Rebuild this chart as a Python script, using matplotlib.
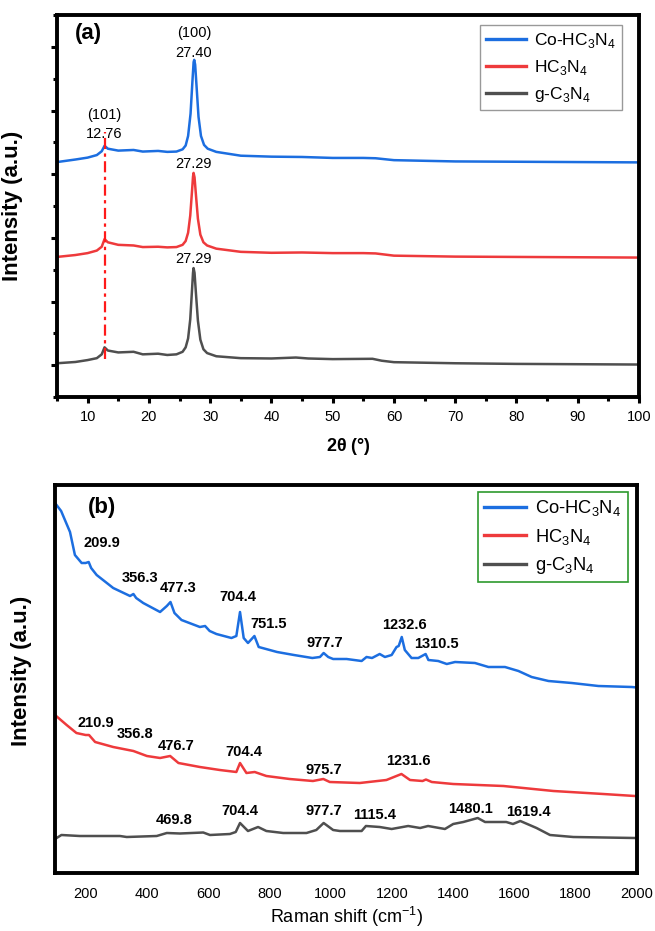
import matplotlib
matplotlib.use("Agg")
import matplotlib.pyplot as plt
from matplotlib.ticker import MultipleLocator

plt.rcParams['font.family'] = ['Liberation Sans', 'DejaVu Sans']
plt.rcParams['mathtext.fontset'] = 'custom'
plt.rcParams['mathtext.rm'] = 'Liberation Sans'
plt.rcParams['mathtext.bf'] = 'Liberation Sans:bold'

BLUE = '#1c6ee0'
RED = '#ee3a3c'
GRAY = '#4f4f4f'

names = [r'Co-HC$_3$N$_4$', r'HC$_3$N$_4$', r'g-C$_3$N$_4$']

# ---- XRD patterns (offset stacked, arbitrary counts) ----
xrd_co_x = [5, 8, 10, 11.5, 12.3, 12.76, 13.3, 15, 17.5, 19, 21.5, 23, 24.5, 25.5, 26.0, 26.4, 26.8, 27.1,
            27.3, 27.4, 27.55, 27.8, 28.1, 28.5, 29.0, 29.6, 31, 35, 40, 45, 50, 55, 57, 60, 70, 80, 90, 100]
xrd_co_y = [4190, 4230, 4260, 4300, 4360, 4445, 4400, 4370, 4380, 4355, 4365, 4350, 4355, 4390, 4450, 4600, 4950, 5450,
            5760, 5795, 5720, 5350, 4900, 4600, 4460, 4400, 4350, 4290, 4275, 4270, 4255, 4255, 4250, 4220, 4200, 4195, 4190, 4185]

xrd_h_x = [5, 8, 10, 11.5, 12.3, 12.76, 13.3, 15, 17.5, 19, 21.5, 23, 24.5, 25.5, 26.0, 26.4, 26.75, 27.05,
           27.2, 27.29, 27.45, 27.7, 28.0, 28.4, 28.9, 29.5, 31, 35, 40, 45, 50, 55, 57, 60, 70, 80, 90, 100]
xrd_h_y = [2700, 2730, 2760, 2800, 2860, 2980, 2930, 2890, 2880, 2855, 2860, 2850, 2855, 2890, 2950, 3080, 3350, 3750,
           3960, 4020, 3950, 3650, 3300, 3050, 2930, 2880, 2830, 2780, 2765, 2770, 2760, 2760, 2755, 2720, 2705, 2700, 2695, 2690]

xrd_g_x = [5, 8, 10, 11.5, 12.3, 12.76, 13.3, 15, 17.5, 19, 21.5, 23, 24.5, 25.5, 26.0, 26.4, 26.75, 27.05,
           27.2, 27.29, 27.45, 27.7, 28.0, 28.4, 28.9, 29.5, 31, 35, 40, 44, 46, 50, 56.5, 58, 60, 70, 80, 90, 100]
xrd_g_y = [1030, 1050, 1080, 1110, 1170, 1280, 1230, 1200, 1210, 1170, 1180, 1160, 1170, 1210, 1280, 1420, 1720, 2200,
           2450, 2525, 2450, 2100, 1700, 1400, 1250, 1190, 1140, 1110, 1105, 1120, 1105, 1095, 1100, 1070, 1047, 1030, 1020, 1015, 1010]

xrd_peaks = [(12.76, 4780, '(101)\n12.76'), (27.35, 6060, '(100)\n27.40'),
             (27.3, 4160, '27.29'), (27.3, 2660, '27.29')]

# ---- Raman spectra ----
ram_co_x = [100, 120, 149, 165, 187, 200, 210, 218, 236, 290, 345, 356, 365, 388, 443, 465, 477, 490, 513,
            573, 590, 605, 627, 676, 692, 704, 716, 730, 751, 765, 825, 880, 940, 965, 977, 992, 1008,
            1052, 1101, 1117, 1135, 1160, 1177, 1199, 1215, 1222, 1232, 1242, 1264, 1286, 1310, 1319,
            1351, 1379, 1406, 1471, 1515, 1569, 1613, 1656, 1711, 1787, 1874, 1983, 2000]
ram_co_y = [3700, 3620, 3410, 3180, 3100, 3100, 3110, 3050, 2980, 2850, 2770, 2790, 2750, 2700, 2610, 2670, 2710, 2600, 2530,
            2460, 2470, 2420, 2390, 2350, 2370, 2610, 2350, 2300, 2370, 2260, 2210, 2180, 2150, 2160, 2200, 2160, 2140,
            2140, 2120, 2160, 2150, 2190, 2160, 2180, 2260, 2270, 2360, 2230, 2150, 2150, 2190, 2130,
            2120, 2090, 2110, 2100, 2060, 2060, 2020, 1960, 1920, 1900, 1870, 1860, 1855]

ram_h_x = [100, 138, 170, 200, 211, 231, 290, 356, 400, 443, 476, 503, 573, 638, 692, 704, 725, 752, 790,
           866, 942, 976, 997, 1095, 1182, 1231, 1259, 1300, 1311, 1330, 1400, 1564, 1727, 1890, 1993, 2000]
ram_h_y = [1580, 1480, 1400, 1380, 1380, 1310, 1260, 1220, 1170, 1150, 1170, 1100, 1060, 1030, 1010, 1100, 1000, 1010, 970,
           940, 920, 940, 910, 900, 930, 990, 930, 920, 935, 910, 890, 870, 820, 790, 770, 770]

ram_g_x = [100, 121, 181, 312, 334, 432, 465, 508, 584, 606, 671, 690, 704, 730, 763, 790, 845, 921, 953, 977,
           1008, 1030, 1101, 1115, 1160, 1199, 1253, 1292, 1318, 1373, 1400, 1433, 1480, 1504, 1573, 1595,
           1619, 1672, 1716, 1792, 1993, 2000]
ram_g_y = [340, 380, 370, 370, 360, 370, 400, 395, 405, 380, 390, 410, 500, 420, 460, 420, 400, 400, 430, 500,
           430, 420, 420, 470, 460, 440, 470, 450, 470, 440, 490, 510, 550, 510, 510, 490,
           520, 450, 380, 360, 350, 350]

ram_labels = [
    (253, 3300, '209.9'), (378, 2950, '356.3'), (502, 2850, '477.3'), (698, 2760, '704.4'),
    (799, 2490, '751.5'), (982, 2300, '977.7'), (1240, 2480, '1232.6'), (1344, 2290, '1310.5'),
    (234, 1500, '210.9'), (361, 1390, '356.8'), (495, 1270, '476.7'), (717, 1210, '704.4'),
    (978, 1030, '975.7'), (1252, 1120, '1231.6'),
    (489, 530, '469.8'), (704, 620, '704.4'), (978, 620, '977.7'), (1145, 580, '1115.4'),
    (1458, 640, '1480.1'), (1644, 610, '1619.4'),
]

fig = plt.figure(figsize=(6.55, 9.31), dpi=100)
W, H = 655, 931
ax1 = fig.add_axes([57 / W, 1 - 397 / H, 582 / W, 382 / H])
ax2 = fig.add_axes([55 / W, 1 - 873 / H, 582 / W, 388 / H])

for ax in (ax1, ax2):
    for s in ax.spines.values():
        s.set_linewidth(2.8)

# (a) XRD
ax1.plot(xrd_co_x, xrd_co_y, color=BLUE, lw=1.8, label=names[0])
ax1.plot(xrd_h_x, xrd_h_y, color=RED, lw=1.8, label=names[1])
ax1.plot(xrd_g_x, xrd_g_y, color=GRAY, lw=1.8, label=names[2])
ax1.plot([12.76, 12.76], [1090, 4660], color='#ff1a1a', lw=1.6, ls=(0, (5, 2, 1.5, 2)))
for x, y, t in xrd_peaks:
    ax1.text(x, y, t, ha='center', va='center', fontsize=10.5, linespacing=1.5)
ax1.text(88 / W, 1 - 33 / H, '(a)', transform=fig.transFigure, fontsize=16, fontweight='bold',
         ha='center', va='center')
ax1.set_xlim(5, 100)
ax1.set_ylim(500, 6500)
ax1.xaxis.set_major_locator(MultipleLocator(10))
ax1.xaxis.set_minor_locator(MultipleLocator(5))
ax1.yaxis.set_major_locator(MultipleLocator(1000))
ax1.yaxis.set_minor_locator(MultipleLocator(500))
ax1.tick_params(which='major', direction='out', length=4.5, width=2.2, labelsize=10.5, pad=5)
ax1.tick_params(which='minor', direction='out', length=3, width=2.2)
ax1.tick_params(axis='y', which='both', labelleft=False)
ax1.set_xlabel(r'2$\mathbf{\theta}$ (°)', fontsize=13, fontweight='bold')
ax1.xaxis.set_label_coords(0.5, -0.102)
ax1.set_ylabel('Intensity (a.u.)', fontsize=16, fontweight='bold')
ax1.yaxis.set_label_coords(-0.058, 0.5)
leg1 = ax1.legend(loc='upper right', bbox_to_anchor=(622 / W, 1 - 25 / H), bbox_transform=fig.transFigure,
                  borderaxespad=0, fontsize=12.5, fancybox=False, framealpha=1, edgecolor='#999999',
                  handlelength=2.3, handletextpad=0.5, borderpad=0.35, labelspacing=0.45)
leg1.get_frame().set_linewidth(1.0)
for ln in leg1.get_lines():
    ln.set_linewidth(2.4)

# (b) Raman
ax2.plot(ram_co_x, ram_co_y, color=BLUE, lw=1.8, label=names[0])
ax2.plot(ram_h_x, ram_h_y, color=RED, lw=1.8, label=names[1])
ax2.plot(ram_g_x, ram_g_y, color=GRAY, lw=1.8, label=names[2])
for x, y, t in ram_labels:
    ax2.text(x, y, t, ha='center', va='center', fontsize=10.5, fontweight='bold')
ax2.text(102 / W, 1 - 508 / H, '(b)', transform=fig.transFigure, ha='center', va='center',
         fontsize=16, fontweight='bold')
ax2.set_xlim(100, 2000)
ax2.set_ylim(0, 3880)
ax2.set_xticks(range(200, 2001, 200))
ax2.set_yticks([])
ax2.tick_params(axis='x', length=0, labelsize=10.5, pad=10)
ax2.set_xlabel(r'Raman shift (cm$^{-1}$)', fontsize=13)
ax2.xaxis.set_label_coords(0.5, -0.083)
ax2.set_ylabel('Intensity (a.u.)', fontsize=16, fontweight='bold')
ax2.yaxis.set_label_coords(-0.04, 0.52)
leg2 = ax2.legend(loc='upper right', bbox_to_anchor=(628 / W, 1 - 492 / H), bbox_transform=fig.transFigure,
                  borderaxespad=0, fontsize=13.2, fancybox=False, framealpha=1, edgecolor='#2e9a2e',
                  handlelength=2.3, handletextpad=0.5, borderpad=0.35, labelspacing=0.45)
leg2.get_frame().set_linewidth(1.2)
for ln in leg2.get_lines():
    ln.set_linewidth(2.4)

fig.savefig('out.png', dpi=100)
